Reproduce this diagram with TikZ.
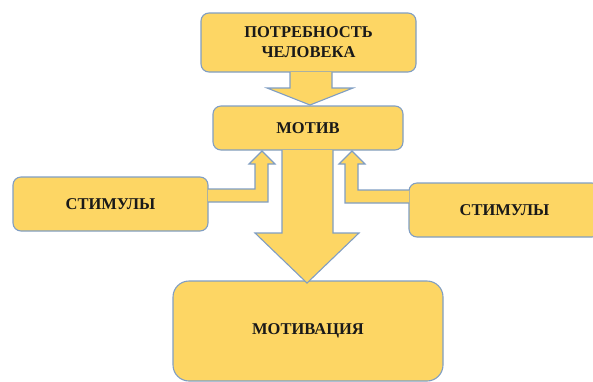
\documentclass[tikz,border=0pt]{standalone}
\usepackage{fontspec}
\setmainfont{Liberation Serif}
\definecolor{boxfill}{RGB}{253,214,100}
\definecolor{boxline}{RGB}{128,158,195}
\begin{document}
\begin{tikzpicture}[x=1pt,y=-1pt,
  box/.style={draw=boxline,fill=boxfill,line width=1.1pt,rounded corners=8pt,
    font=\fontsize{16.5}{20}\selectfont\bfseries,text=black!90,align=center,inner sep=0pt},
  blockarrow/.style={draw=boxline,fill=boxfill,line width=1.1pt,line join=miter}]
\useasboundingbox (0,0) rectangle (593,381);
\clip (0,0) rectangle (593,381);
\node[box,minimum width=215pt,minimum height=59pt] (need) at (308.5,42.5) {ПОТРЕБНОСТЬ\\ЧЕЛОВЕКА};
\node[box,minimum width=190pt,minimum height=44pt] (motive) at (308,128) {МОТИВ};
\node[box,minimum width=195pt,minimum height=54pt] (stimL) at (110.5,204) {СТИМУЛЫ};
\node[box,minimum width=191pt,minimum height=54pt] (stimR) at (504.5,210) {СТИМУЛЫ};
\node[box,rounded corners=16pt,minimum width=270pt,minimum height=100pt] (motivation) at (308,331) {МОТИВАЦИЯ};
% need -> motive
\draw[blockarrow] (290,72) -- (290,88) -- (267,88) -- (310,105) -- (353,88) -- (332,88) -- (332,72);
% motive -> motivation
\draw[blockarrow] (282,150) -- (282,233) -- (255,233) -- (307,283) -- (359,233) -- (333,233) -- (333,150);
% left stimuli -> motive
\draw[blockarrow] (208,189) -- (255,189) -- (255,164) -- (249,164) -- (262,151) -- (275,164) -- (268,164) -- (268,202) -- (208,202);
% right stimuli -> motive
\draw[blockarrow] (409,190) -- (358,190) -- (358,164) -- (365,164) -- (352,151) -- (339,164) -- (345,164) -- (345,203) -- (409,203);
\end{tikzpicture}
\end{document}
